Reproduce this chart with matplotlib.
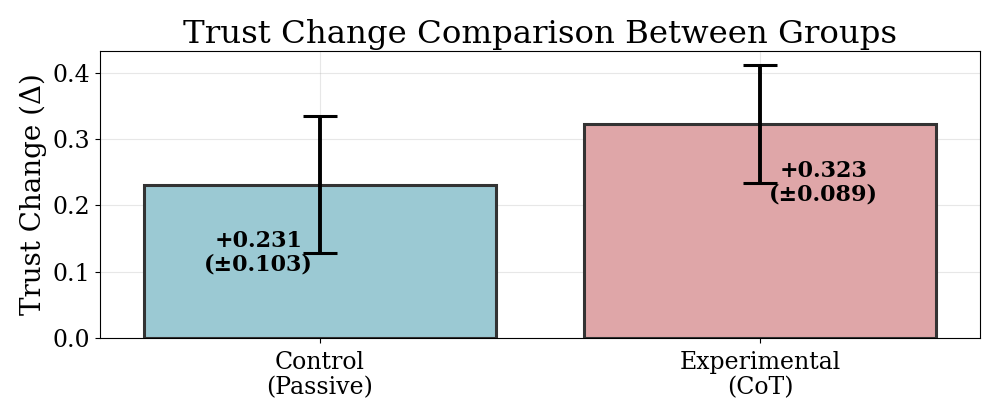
import numpy as np
import matplotlib
matplotlib.use('Agg')
import matplotlib.pyplot as plt

plt.rcParams['font.family'] = 'DejaVu Serif'

groups = ['Control\n(Passive)', 'Experimental\n(CoT)']
means = [0.231, 0.323]
stds = [0.103, 0.089]
colors = ['#9BC9D3', '#DFA6A8']

fig, ax = plt.subplots(figsize=(9.97, 4.17), dpi=100)
x = np.arange(len(groups))
ax.bar(x, means, width=0.8, color=colors, edgecolor='#333333', linewidth=2.2, zorder=2)
ax.errorbar(x, means, yerr=stds, fmt='none', ecolor='black', elinewidth=2.8,
            capsize=12, capthick=2.2, zorder=3)

offsets = [-0.14, 0.145]
for i in range(len(x)):
    ax.text(x[i] + offsets[i], means[i] - stds[i], f'+{means[i]:.3f}\n(±{stds[i]:.3f})',
            ha='center', va='center', fontsize=16, fontweight='bold',
            linespacing=1.1, zorder=4)

ax.set_xticks(x)
ax.set_xticklabels(groups, fontsize=17, linespacing=1.1)
ax.tick_params(axis='x', pad=6)
ax.tick_params(axis='y', labelsize=17)
ax.set_ylabel('Trust Change (Δ)', fontsize=20)
ax.set_title('Trust Change Comparison Between Groups', fontsize=23.3)
ax.set_xlim(-0.5, 1.5)
ax.set_ylim(0, 0.433)
ax.grid(True, alpha=0.3, zorder=0)
ax.set_axisbelow(True)

plt.subplots_adjust(left=0.1, right=0.983, top=0.878, bottom=0.19)
plt.savefig('out.png', dpi=100)
